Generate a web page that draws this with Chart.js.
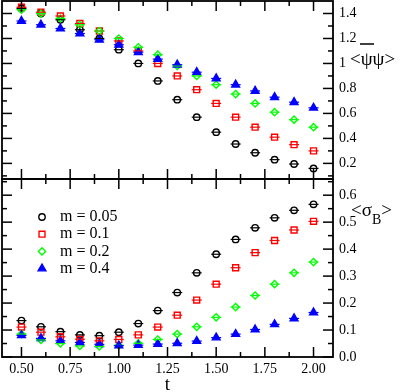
<!DOCTYPE html>
<html>
<head>
<meta charset="utf-8">
<script src="https://cdn.jsdelivr.net/npm/chart.js@4.4.1/dist/chart.umd.min.js"></script>
<style>
	body { margin: 0; background: #fff; }
	#top, #bottom { position: absolute; left: 0; width: 402px; }
	#top { top: 0; height: 182px; }
	#bottom { top: 178px; height: 214px; }
</style>
</head>
<body>
<div id="top"><canvas id="pbp"></canvas></div>
<div id="bottom"><canvas id="sigma"></canvas></div>
<script>
let t = [0.5, 0.6, 0.7, 0.8, 0.9, 1.0, 1.1, 1.2, 1.3, 1.4, 1.5, 1.6, 1.7, 1.8, 1.9, 2.0];
let masses = ['m = 0.05', 'm = 0.1', 'm = 0.2', 'm = 0.4'];

// chiral condensate, top panel
let pbp005 = [1.44, 1.40, 1.35, 1.27, 1.20, 1.11, 1.00, 0.86, 0.71, 0.57, 0.45, 0.355, 0.285, 0.23, 0.195, 0.16];
let pbp01 = [1.45, 1.41, 1.38, 1.32, 1.26, 1.18, 1.10, 1.00, 0.90, 0.79, 0.68, 0.57, 0.49, 0.41, 0.35, 0.30];
let pbp02 = [1.43, 1.40, 1.36, 1.31, 1.26, 1.20, 1.13, 1.07, 0.98, 0.90, 0.83, 0.755, 0.68, 0.61, 0.55, 0.49];
let pbp04 = [1.34, 1.31, 1.28, 1.24, 1.19, 1.15, 1.09, 1.035, 0.99, 0.93, 0.88, 0.83, 0.78, 0.73, 0.69, 0.645];

// sigma_B, bottom panel
let sig005 = [0.135, 0.112, 0.094, 0.082, 0.079, 0.092, 0.124, 0.172, 0.239, 0.312, 0.381, 0.436, 0.479, 0.516, 0.544, 0.566];
let sig01 = [0.111, 0.092, 0.075, 0.066, 0.060, 0.065, 0.082, 0.111, 0.155, 0.211, 0.270, 0.331, 0.387, 0.432, 0.471, 0.503];
let sig02 = [0.085, 0.063, 0.050, 0.041, 0.039, 0.043, 0.051, 0.065, 0.085, 0.112, 0.147, 0.185, 0.228, 0.270, 0.312, 0.352];
let sig04 = [0.080, 0.069, 0.060, 0.054, 0.047, 0.042, 0.044, 0.048, 0.051, 0.059, 0.072, 0.085, 0.102, 0.121, 0.143, 0.165];

let xMajor = [0.5, 0.75, 1.0, 1.25, 1.5, 1.75, 2.0];
let xMinor = [0.625, 0.875, 1.125, 1.375, 1.625, 1.875];
let pbpMajor = [0.2, 0.4, 0.6, 0.8, 1.0, 1.2, 1.4];
let pbpMinor = [0.1, 0.3, 0.5, 0.7, 0.9, 1.1, 1.3];
let sigMajor = [0.0, 0.1, 0.2, 0.3, 0.4, 0.5, 0.6];
let sigMinor = [0.05, 0.15, 0.25, 0.35, 0.45, 0.55, 0.65];

let colors = ['#000000', '#ff0000', '#00ff00', '#0000ff'];
let symbols = ['circle', 'rect', 'rectRot', 'triangle'];
let radii = [3.2, 4.2, 3.6, 4.5];
let serif = "'Liberation Serif', 'DejaVu Serif', serif";

let makeSets = (series) => series.map((vals, i) => ({
	label: masses[i],
	data: t.map((x, j) => ({x: x, y: vals[j]})),
	showLine: false,
	pointStyle: symbols[i],
	pointRadius: radii[i],
	pointBorderWidth: 1.4,
	borderColor: colors[i],
	backgroundColor: i === 3 ? colors[i] : 'rgba(0,0,0,0)',
	order: 3 - i
}));

let drawSymbol = (ctx, style, x, y, r) => {
	ctx.beginPath();
	if (style === 'circle') {
		ctx.arc(x, y, r, 0, Math.PI * 2);
	} else if (style === 'rect') {
		let s = r * Math.SQRT1_2;
		ctx.rect(x - s, y - s, 2 * s, 2 * s);
	} else if (style === 'rectRot') {
		ctx.moveTo(x, y - r);
		ctx.lineTo(x + r, y);
		ctx.lineTo(x, y + r);
		ctx.lineTo(x - r, y);
		ctx.closePath();
	} else {
		ctx.moveTo(x, y - r);
		ctx.lineTo(x + 0.866 * r, y + 0.5 * r);
		ctx.lineTo(x - 0.866 * r, y + 0.5 * r);
		ctx.closePath();
	}
};

// bars through the markers, ticks on all four sides, frame
let frame = (major, minor) => ({
	id: 'frame',
	afterDatasetsDraw: (chart) => {
		let ctx = chart.ctx;
		let a = chart.chartArea;
		let xs = chart.scales.x;
		let ys = chart.scales.y;
		ctx.save();
		chart.data.datasets.forEach((ds, i) => {
			ctx.strokeStyle = ds.borderColor;
			ctx.lineWidth = 1.2;
			for (let p of chart.getDatasetMeta(i).data) {
				ctx.beginPath();
				ctx.moveTo(p.x - 5, p.y);
				ctx.lineTo(p.x + 5, p.y);
				ctx.stroke();
			}
		});
		ctx.strokeStyle = '#000';
		ctx.lineWidth = 1.5;
		let line = (x1, y1, x2, y2) => {
			ctx.beginPath();
			ctx.moveTo(x1, y1);
			ctx.lineTo(x2, y2);
			ctx.stroke();
		};
		let xTick = (v, len) => {
			let px = xs.getPixelForValue(v);
			line(px, a.top, px, a.top + len);
			line(px, a.bottom, px, a.bottom - len);
		};
		let yTick = (v, len) => {
			let py = ys.getPixelForValue(v);
			line(a.left, py, a.left + len, py);
			line(a.right, py, a.right - len, py);
		};
		xMajor.forEach(v => xTick(v, 10));
		xMinor.forEach(v => xTick(v, 5));
		major.forEach(v => yTick(v, 10));
		minor.forEach(v => yTick(v, 5));
		ctx.lineWidth = 1.8;
		ctx.strokeRect(a.left, a.top, a.right - a.left, a.bottom - a.top);
		ctx.restore();
	}
});

let pbpTitle = {
	id: 'pbpTitle',
	afterDraw: (chart) => {
		let ctx = chart.ctx;
		ctx.save();
		ctx.fillStyle = '#000';
		ctx.font = '19px ' + serif;
		ctx.textBaseline = 'middle';
		ctx.fillText('<ψψ>', 350, 60);
		ctx.lineWidth = 1.5;
		ctx.beginPath();
		ctx.moveTo(360, 44);
		ctx.lineTo(374, 44);
		ctx.stroke();
		ctx.restore();
	}
};

let sigTitle = {
	id: 'sigTitle',
	afterDraw: (chart) => {
		let ctx = chart.ctx;
		let a = chart.chartArea;
		ctx.save();
		ctx.fillStyle = '#000';
		ctx.textBaseline = 'middle';
		ctx.font = '19px ' + serif;
		ctx.fillText('<σ', 351, 33);
		let w = ctx.measureText('<σ').width;
		ctx.font = '14px ' + serif;
		ctx.fillText('B', 351 + w, 42);
		let wb = ctx.measureText('B').width;
		ctx.font = '19px ' + serif;
		ctx.fillText('>', 351 + w + wb, 33);
		ctx.textAlign = 'center';
		ctx.fillText('t', (a.left + a.right) / 2, 207);
		// legend
		chart.data.datasets.forEach((ds, i) => {
			let y = a.top + 38 + i * 17.2;
			ctx.strokeStyle = ds.borderColor;
			ctx.fillStyle = ds.backgroundColor;
			ctx.lineWidth = 1.4;
			drawSymbol(ctx, ds.pointStyle, a.left + 40, y, ds.pointRadius);
			ctx.fill();
			ctx.stroke();
			ctx.fillStyle = '#000';
			ctx.font = '16px ' + serif;
			ctx.textAlign = 'left';
			ctx.fillText(ds.label, a.left + 58, y);
		});
		ctx.restore();
	}
};

let makeChart = (id, series, yMin, yMax, major, minor, fmt, showX, pad, extra) => {
	return new Chart(document.getElementById(id), {
		type: 'scatter',
		data: {datasets: makeSets(series)},
		options: {
			responsive: true,
			maintainAspectRatio: false,
			animation: false,
			layout: {padding: pad, autoPadding: false},
			plugins: {legend: {display: false}, tooltip: {enabled: false}},
			scales: {
				x: {
					type: 'linear',
					min: 0.4,
					max: 2.1,
					display: showX,
					grid: {display: false, drawTicks: false},
					border: {display: false},
					afterBuildTicks: (s) => { s.ticks = xMajor.map(v => ({value: v})); },
					afterFit: (s) => {
						s.height = showX ? 35 : 0;
						s.paddingLeft = 0;
						s.paddingRight = 0;
					},
					ticks: {
						autoSkip: false,
						maxRotation: 0,
						padding: 4,
						color: '#000',
						font: {family: serif, size: 14},
						callback: (v) => v.toFixed(2)
					}
				},
				y: {
					position: 'right',
					min: yMin,
					max: yMax,
					grid: {display: false, drawTicks: false},
					border: {display: false},
					afterBuildTicks: (s) => { s.ticks = major.map(v => ({value: v})); },
					afterFit: (s) => {
						s.width = 69;
						s.paddingTop = 0;
						s.paddingBottom = 0;
					},
					ticks: {
						autoSkip: false,
						padding: 6,
						color: '#000',
						font: {family: serif, size: 14},
						callback: fmt
					}
				}
			}
		},
		plugins: [frame(major, minor), extra]
	});
};

makeChart('pbp', [pbp005, pbp01, pbp02, pbp04], 0.075, 1.5, pbpMajor, pbpMinor,
	(v) => String(Math.round(v * 10) / 10), false, {left: 2, top: 1, bottom: 3, right: 0}, pbpTitle);
makeChart('sigma', [sig005, sig01, sig02, sig04], 0, 0.66, sigMajor, sigMinor,
	(v) => v.toFixed(1), true, {left: 2, top: 1, bottom: 0, right: 0}, sigTitle);
</script>
</body>
</html>
